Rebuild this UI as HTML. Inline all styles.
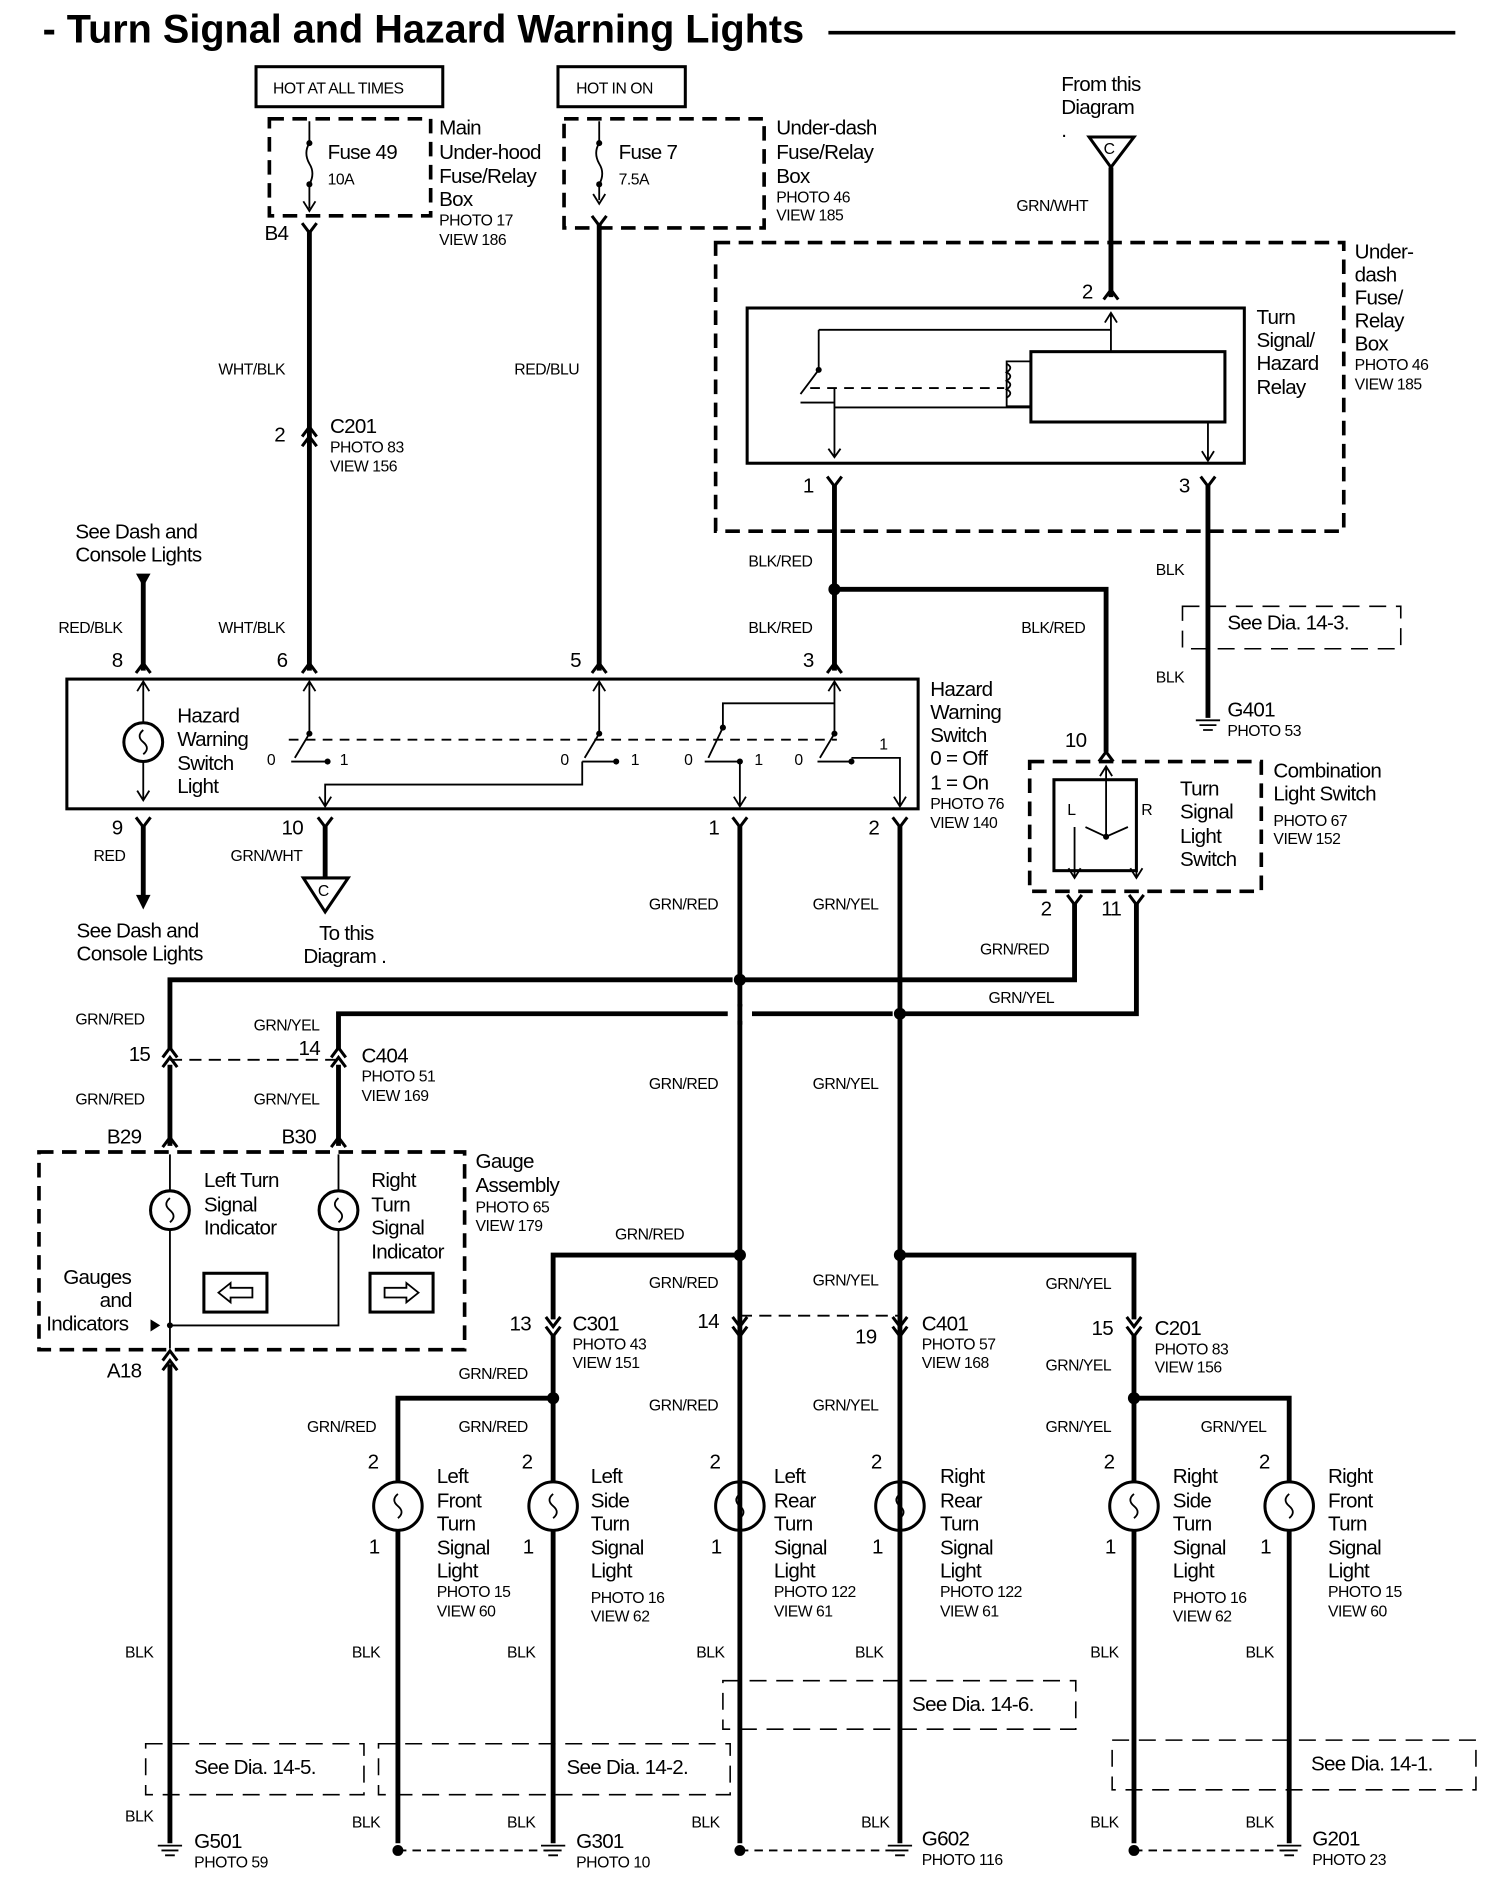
<!DOCTYPE html>
<html><head><meta charset="utf-8"><style>
html,body{margin:0;padding:0;background:#fff}
svg{display:block}
text{font-family:"Liberation Sans",Arial,sans-serif;fill:#000}
.t{font-size:17px;letter-spacing:-0.6px}
.s{font-size:13px;letter-spacing:-0.4px}
.w{font-size:13px;letter-spacing:-0.4px}
.k{stroke:#000;stroke-width:4;fill:none}
.n{stroke:#000;stroke-width:1.5;fill:none}
.d{stroke:#000;stroke-width:3;fill:none;stroke-dasharray:12 7}
.dt{stroke:#000;stroke-width:1.3;fill:none;stroke-dasharray:14 8}
.b{stroke:#000;stroke-width:2.5;fill:none}
</style></head><body>
<svg width="1504" height="1882" viewBox="0 0 1240 1552" xmlns="http://www.w3.org/2000/svg">
<!-- title -->
<text x="35" y="35" textLength="628" lengthAdjust="spacingAndGlyphs" style="font-size:33px;font-weight:bold">- Turn Signal and Hazard Warning Lights</text>
<line x1="683" y1="27" x2="1200" y2="27" stroke="#000" stroke-width="3"/>

<!-- top hot boxes -->
<rect x="211" y="55" width="154" height="33" class="b"/><text x="225" y="77" class="s">HOT AT ALL TIMES</text>
<rect x="460" y="55" width="105" height="33" class="b"/><text x="475" y="77" class="s">HOT IN ON</text>

<!-- fuse 49 -->
<rect x="222" y="98" width="133" height="80" class="d"/>
<path class="n" d="M255 100 V118 M255 152 V172 M250 166 L255 174 L260 166"/>
<path class="n" d="M255 118 q-5 8 0 17 q5 8 0 17"/>
<circle cx="255" cy="118" r="2.5"/><circle cx="255" cy="152" r="2.5"/>
<text x="270" y="131" class="t">Fuse 49</text><text x="270" y="152" class="s">10A</text>
<text x="362" y="111" class="t">Main</text><text x="362" y="131" class="t">Under-hood</text><text x="362" y="151" class="t">Fuse/Relay</text><text x="362" y="170" class="t">Box</text>
<text x="362" y="186" class="s">PHOTO 17</text><text x="362" y="202" class="s">VIEW 186</text>
<text x="218" y="198" class="t">B4</text>
<path class="b" d="M249 184 L255 192 L261 184"/>
<line x1="255" y1="190" x2="255" y2="553" class="k"/>

<!-- fuse 7 -->
<rect x="465" y="98" width="165" height="90" class="d"/>
<path class="n" d="M494 100 V118 M494 152 V165"/>
<path class="n" d="M494 118 q-5 8 0 17 q5 8 0 17"/>
<circle cx="494" cy="118" r="2.5"/><circle cx="494" cy="152" r="2.5"/>
<path class="n" d="M489 160 L494 168 L499 160"/>
<text x="510" y="131" class="t">Fuse 7</text><text x="510" y="152" class="s">7.5A</text>
<text x="640" y="111" class="t">Under-dash</text><text x="640" y="131" class="t">Fuse/Relay</text><text x="640" y="151" class="t">Box</text>
<text x="640" y="167" class="s">PHOTO 46</text><text x="640" y="182" class="s">VIEW 185</text>
<path class="b" d="M488 178 L494 186 L500 178"/>
<line x1="494" y1="184" x2="494" y2="553" class="k"/>

<text x="180" y="309" class="w">WHT/BLK</text>
<text x="424" y="309" class="w">RED/BLU</text>
<text x="226" y="364" class="t">2</text>
<path class="b" d="M249 360 L255 352 L261 360 M249 368 L255 360 L261 368"/>
<text x="272" y="357" class="t">C201</text><text x="272" y="373" class="s">PHOTO 83</text><text x="272" y="389" class="s">VIEW 156</text>

<!-- from this diagram -->
<text x="875" y="75" class="t">From this</text><text x="875" y="94" class="t">Diagram</text>
<text x="875" y="113" class="t">.</text>
<path class="b" d="M898 113 L935 113 L916 138 Z"/><text x="910" y="127" class="s">C</text>
<line x1="916" y1="138" x2="916" y2="245" class="k"/>
<text x="838" y="174" class="w">GRN/WHT</text>

<!-- relay box -->
<rect x="590" y="200" width="518" height="238" class="d"/>
<text x="1117" y="213" class="t">Under-</text><text x="1117" y="232" class="t">dash</text><text x="1117" y="251" class="t">Fuse/</text><text x="1117" y="270" class="t">Relay</text><text x="1117" y="289" class="t">Box</text>
<text x="1117" y="305" class="s">PHOTO 46</text><text x="1117" y="321" class="s">VIEW 185</text>
<rect x="616" y="254" width="410" height="128" class="b"/>
<text x="1036" y="267" class="t">Turn</text><text x="1036" y="286" class="t">Signal/</text><text x="1036" y="305" class="t">Hazard</text><text x="1036" y="325" class="t">Relay</text>
<text x="892" y="246" class="t">2</text>
<path class="b" d="M910 247 L916 239 L922 247"/>
<path class="n" d="M911 266 L916 258 L921 266 M916 258 V290 M675 272 H916 M675 272 V305 M675 305 L660 325"/>
<circle cx="675" cy="305" r="2.5"/>
<rect x="850" y="290" width="160" height="58" class="b"/>
<path class="n" d="M850 298 H830 V335 H850"/>
<path class="n" d="M830 300 q6 3 0 7 q6 3 0 7 q6 3 0 7 q6 3 0 7"/>
<line x1="668" y1="320" x2="828" y2="320" class="n" stroke-dasharray="8 6"/>
<path class="n" d="M660 332 H688 M688 320 V377 M683 370 L688 377 L693 370 M688 336 H850"/>
<path class="n" d="M996 348 V380 M991 372 L996 380 L1001 372"/>
<text x="662" y="406" class="t">1</text><text x="972" y="406" class="t">3</text>
<path class="b" d="M682 393 L688 401 L694 393 M990 393 L996 401 L1002 393"/>
<line x1="688" y1="400" x2="688" y2="553" class="k"/>
<line x1="996" y1="400" x2="996" y2="592" class="k"/>
<text x="617" y="467" class="w">BLK/RED</text>
<circle cx="688" cy="486" r="5"/>
<path class="k" d="M688 486 H912 V620"/>
<text x="617" y="522" class="w">BLK/RED</text><text x="842" y="522" class="w">BLK/RED</text>
<text x="953" y="474" class="w">BLK</text><text x="953" y="563" class="w">BLK</text>
<path class="dt" d="M975 500 H1155 V535 H975 Z"/>
<text x="1012" y="519" class="t">See Dia. 14-3.</text>
<path class="n" d="M986 594 H1006 M989 598 H1003 M992 602 H1000"/>
<text x="1012" y="591" class="t">G401</text><text x="1012" y="607" class="s">PHOTO 53</text>

<!-- left top -->
<text x="62" y="444" class="t">See Dash and</text><text x="62" y="463" class="t">Console Lights</text>
<path d="M112 473 L124 473 L118 484 Z"/><line x1="118" y1="480" x2="118" y2="553" class="k"/>
<text x="48" y="522" class="w">RED/BLK</text><text x="180" y="522" class="w">WHT/BLK</text>
<text x="92" y="550" class="t">8</text><text x="228" y="550" class="t">6</text><text x="470" y="550" class="t">5</text><text x="662" y="550" class="t">3</text>
<path class="b" d="M112 555 L118 547 L124 555 M249 555 L255 547 L261 555 M488 555 L494 547 L500 555 M682 555 L688 547 L694 555"/>

<!-- hazard switch -->
<rect x="55" y="560" width="702" height="107" class="b"/>
<path class="n" d="M113 570 L118 562 L123 570 M118 562 V596 M118 628 V660 M113 652 L118 660 L123 652"/>
<circle cx="118" cy="612" r="16" class="b"/>
<path class="n" d="M118 602 q-6 5 0 10 q6 5 0 10"/>
<text x="146" y="596" class="t">Hazard</text><text x="146" y="615" class="t">Warning</text><text x="146" y="635" class="t">Switch</text><text x="146" y="654" class="t">Light</text>
<path class="n" d="M250 570 L255 562 L260 570 M255 562 V605 L243 625 M489 570 L494 562 L499 570 M494 562 V605 L482 625 M683 570 L688 562 L693 570 M688 562 V605 L676 625 M688 580 H596 V600 L584 625"/>
<circle cx="255" cy="605" r="2.5"/><circle cx="494" cy="605" r="2.5"/><circle cx="688" cy="605" r="2.5"/><circle cx="596" cy="600" r="2.5"/>
<line x1="238" y1="610" x2="690" y2="610" class="n" stroke-dasharray="8 6"/>
<text x="220" y="631" class="s">0</text><text x="280" y="631" class="s">1</text><text x="462" y="631" class="s">0</text><text x="520" y="631" class="s">1</text><text x="564" y="631" class="s">0</text><text x="622" y="631" class="s">1</text><text x="655" y="631" class="s">0</text><text x="725" y="618" class="s">1</text>
<path class="n" d="M240 628 H270 M480 628 H508 M581 628 H610 M674 628 H702"/>
<circle cx="270" cy="628" r="2.5"/><circle cx="508" cy="628" r="2.5"/><circle cx="610" cy="628" r="2.5"/><circle cx="702" cy="628" r="2.5"/>
<path class="n" d="M480 628 V647 H268 V665 M263 657 L268 665 L273 657 M610 628 V665 M605 657 L610 665 L615 657 M702 625 H742 V665 M737 657 L742 665 L747 657"/>
<text x="767" y="574" class="t">Hazard</text><text x="767" y="593" class="t">Warning</text><text x="767" y="612" class="t">Switch</text><text x="767" y="631" class="t">0 = Off</text><text x="767" y="651" class="t">1 = On</text>
<text x="767" y="667" class="s">PHOTO 76</text><text x="767" y="683" class="s">VIEW 140</text>

<text x="92" y="688" class="t">9</text><text x="232" y="688" class="t">10</text><text x="584" y="688" class="t">1</text><text x="716" y="688" class="t">2</text>
<path class="b" d="M112 674 L118 682 L124 674 M262 674 L268 682 L274 674 M604 674 L610 682 L616 674 M736 674 L742 682 L748 674"/>
<line x1="118" y1="680" x2="118" y2="740" class="k"/><path d="M112 738 L124 738 L118 750 Z"/>
<text x="77" y="710" class="w">RED</text><text x="190" y="710" class="w">GRN/WHT</text>
<line x1="268" y1="680" x2="268" y2="724" class="k"/>
<path class="b" d="M250 724 L287 724 L268 752 Z"/><text x="262" y="739" class="s">C</text>
<text x="63" y="773" class="t">See Dash and</text><text x="63" y="792" class="t">Console Lights</text>
<text x="263" y="775" class="t">To this</text><text x="250" y="794" class="t">Diagram .</text>
<line x1="610" y1="680" x2="610" y2="1520" class="k"/>
<line x1="742" y1="680" x2="742" y2="1520" class="k"/>
<text x="535" y="750" class="w">GRN/RED</text><text x="670" y="750" class="w">GRN/YEL</text>

<!-- combination switch -->
<rect x="849" y="628" width="191" height="107" class="d"/>
<rect x="869" y="643" width="68" height="75" class="b"/>
<text x="880" y="672" class="s">L</text><text x="941" y="672" class="s">R</text>
<text x="973" y="656" class="t">Turn</text><text x="973" y="675" class="t">Signal</text><text x="973" y="695" class="t">Light</text><text x="973" y="714" class="t">Switch</text>
<text x="1050" y="641" class="t">Combination</text><text x="1050" y="660" class="t">Light Switch</text>
<text x="1050" y="681" class="s">PHOTO 67</text><text x="1050" y="696" class="s">VIEW 152</text>
<text x="878" y="616" class="t">10</text>
<path class="b" d="M906 628 L912 620 L918 628"/>
<path class="n" d="M907 640 L912 632 L917 640 M912 632 V690 M912 690 L895 682 M912 690 L930 682 M886 682 V724 M881 716 L886 724 L891 716 M937 682 V724 M932 716 L937 724 L942 716"/>
<circle cx="912" cy="690" r="2.5"/>
<text x="858" y="755" class="t">2</text><text x="908" y="755" class="t">11</text>
<path class="b" d="M880 738 L886 746 L892 738 M931 738 L937 746 L943 738"/>
<path class="k" d="M886 744 V808 H610"/>
<path class="k" d="M937 744 V836 H742"/>
<text x="808" y="787" class="w">GRN/RED</text><text x="815" y="827" class="w">GRN/YEL</text>
<circle cx="610" cy="808" r="5"/><circle cx="742" cy="836" r="5"/>
<path class="k" d="M604 808 H140 V866"/>
<path class="k" d="M736 836 H279 V866"/>
<rect x="600" y="830" width="20" height="12" fill="#fff"/><line x1="610" y1="828" x2="610" y2="845" class="k"/>
<text x="62" y="845" class="w">GRN/RED</text><text x="209" y="850" class="w">GRN/YEL</text>
<text x="106" y="875" class="t">15</text><text x="246" y="870" class="t">14</text>
<path class="b" d="M134 872 L140 864 L146 872 M134 880 L140 872 L146 880 M273 872 L279 864 L285 872 M273 880 L279 872 L285 880"/>
<line x1="140" y1="874" x2="279" y2="874" class="n" stroke-dasharray="10 6"/>
<line x1="140" y1="878" x2="140" y2="945" class="k"/><line x1="279" y1="878" x2="279" y2="945" class="k"/>
<text x="298" y="876" class="t">C404</text><text x="298" y="892" class="s">PHOTO 51</text><text x="298" y="908" class="s">VIEW 169</text>
<text x="62" y="911" class="w">GRN/RED</text><text x="209" y="911" class="w">GRN/YEL</text>
<text x="535" y="898" class="w">GRN/RED</text><text x="670" y="898" class="w">GRN/YEL</text>
<text x="88" y="943" class="t">B29</text><text x="232" y="943" class="t">B30</text>
<path class="b" d="M134 946 L140 938 L146 946 M273 946 L279 938 L285 946"/>

<!-- gauge -->
<rect x="32" y="950" width="351" height="163" class="d"/>
<circle cx="140" cy="998" r="16" class="b"/><path class="n" d="M140 988 q-6 5 0 10 q6 5 0 10"/>
<circle cx="279" cy="998" r="16" class="b"/><path class="n" d="M279 988 q-6 5 0 10 q6 5 0 10"/>
<path class="n" d="M140 952 V982 M279 952 V982 M140 1014 V1112 M279 1014 V1093 H140"/>
<text x="168" y="979" class="t">Left Turn</text><text x="168" y="999" class="t">Signal</text><text x="168" y="1018" class="t">Indicator</text>
<text x="306" y="979" class="t">Right</text><text x="306" y="999" class="t">Turn</text><text x="306" y="1018" class="t">Signal</text><text x="306" y="1038" class="t">Indicator</text>
<text x="392" y="963" class="t">Gauge</text><text x="392" y="983" class="t">Assembly</text><text x="392" y="1000" class="s">PHOTO 65</text><text x="392" y="1015" class="s">VIEW 179</text>
<rect x="168" y="1050" width="52" height="32" class="b"/><path class="n" d="M180 1066 L190 1058 V1062 H208 V1070 H190 V1074 Z"/>
<rect x="305" y="1050" width="52" height="32" class="b"/><path class="n" d="M345 1066 L335 1058 V1062 H317 V1070 H335 V1074 Z"/>
<text x="52" y="1059" class="t">Gauges</text><text x="82" y="1078" class="t">and</text><text x="38" y="1097" class="t">Indicators</text>
<path d="M124 1088 L132 1093 L124 1098 Z"/><circle cx="140" cy="1093" r="2.5"/>
<text x="88" y="1136" class="t">A18</text>
<path class="b" d="M134 1122 L140 1114 L146 1122 M134 1130 L140 1122 L146 1130"/>
<line x1="140" y1="1125" x2="140" y2="1520" class="k"/>

<!-- mid connectors -->
<text x="507" y="1022" class="w">GRN/RED</text>
<circle cx="610" cy="1035" r="5"/><circle cx="742" cy="1035" r="5"/>
<path class="k" d="M610 1035 H456 V1088"/>
<path class="k" d="M742 1035 H935 V1088"/>
<text x="535" y="1062" class="w">GRN/RED</text><text x="670" y="1060" class="w">GRN/YEL</text><text x="862" y="1063" class="w">GRN/YEL</text>
<line x1="610" y1="1085" x2="742" y2="1085" class="n" stroke-dasharray="10 6"/>
<text x="420" y="1097" class="t">13</text><text x="575" y="1095" class="t">14</text><text x="705" y="1108" class="t">19</text><text x="900" y="1101" class="t">15</text>
<path class="b" d="M450 1086 L456 1094 L462 1086 M450 1094 L456 1102 L462 1094 M604 1086 L610 1094 L616 1086 M604 1094 L610 1102 L616 1094 M736 1086 L742 1094 L748 1086 M736 1094 L742 1102 L748 1094 M929 1086 L935 1094 L941 1086 M929 1094 L935 1102 L941 1094"/>
<text x="472" y="1097" class="t">C301</text><text x="472" y="1113" class="s">PHOTO 43</text><text x="472" y="1128" class="s">VIEW 151</text>
<text x="760" y="1097" class="t">C401</text><text x="760" y="1113" class="s">PHOTO 57</text><text x="760" y="1128" class="s">VIEW 168</text>
<text x="952" y="1101" class="t">C201</text><text x="952" y="1117" class="s">PHOTO 83</text><text x="952" y="1132" class="s">VIEW 156</text>
<text x="378" y="1137" class="w">GRN/RED</text><text x="862" y="1130" class="w">GRN/YEL</text>
<text x="535" y="1163" class="w">GRN/RED</text><text x="670" y="1163" class="w">GRN/YEL</text>
<line x1="456" y1="1100" x2="456" y2="1222" class="k"/><line x1="935" y1="1100" x2="935" y2="1222" class="k"/>
<circle cx="456" cy="1153" r="5"/><circle cx="935" cy="1153" r="5"/>
<path class="k" d="M456 1153 H328 V1222"/><path class="k" d="M935 1153 H1063 V1222"/>
<text x="253" y="1181" class="w">GRN/RED</text><text x="378" y="1181" class="w">GRN/RED</text><text x="862" y="1181" class="w">GRN/YEL</text><text x="990" y="1181" class="w">GRN/YEL</text>

<!-- lamps -->
<g>
<circle cx="328" cy="1242" r="20" class="b"/><path class="n" d="M328 1232 q-6 5 0 10 q6 5 0 10"/>
<circle cx="456" cy="1242" r="20" class="b"/><path class="n" d="M456 1232 q-6 5 0 10 q6 5 0 10"/>
<circle cx="610" cy="1242" r="20" class="b"/><path class="n" d="M610 1232 q-6 5 0 10 q6 5 0 10"/>
<circle cx="742" cy="1242" r="20" class="b"/><path class="n" d="M742 1232 q-6 5 0 10 q6 5 0 10"/>
<circle cx="935" cy="1242" r="20" class="b"/><path class="n" d="M935 1232 q-6 5 0 10 q6 5 0 10"/>
<circle cx="1063" cy="1242" r="20" class="b"/><path class="n" d="M1063 1232 q-6 5 0 10 q6 5 0 10"/>
</g>
<text x="303" y="1211" class="t">2</text><text x="430" y="1211" class="t">2</text><text x="585" y="1211" class="t">2</text><text x="718" y="1211" class="t">2</text><text x="910" y="1211" class="t">2</text><text x="1038" y="1211" class="t">2</text>
<text x="304" y="1281" class="t">1</text><text x="431" y="1281" class="t">1</text><text x="586" y="1281" class="t">1</text><text x="719" y="1281" class="t">1</text><text x="911" y="1281" class="t">1</text><text x="1039" y="1281" class="t">1</text>
<path class="k" d="M328 1262 V1520 M456 1262 V1520 M935 1262 V1520 M1063 1262 V1520"/>

<text x="360" y="1223" class="t">Left</text><text x="360" y="1243" class="t">Front</text><text x="360" y="1262" class="t">Turn</text><text x="360" y="1282" class="t">Signal</text><text x="360" y="1301" class="t">Light</text><text x="360" y="1317" class="s">PHOTO 15</text><text x="360" y="1333" class="s">VIEW 60</text>
<text x="487" y="1223" class="t">Left</text><text x="487" y="1243" class="t">Side</text><text x="487" y="1262" class="t">Turn</text><text x="487" y="1282" class="t">Signal</text><text x="487" y="1301" class="t">Light</text><text x="487" y="1322" class="s">PHOTO 16</text><text x="487" y="1337" class="s">VIEW 62</text>
<text x="638" y="1223" class="t">Left</text><text x="638" y="1243" class="t">Rear</text><text x="638" y="1262" class="t">Turn</text><text x="638" y="1282" class="t">Signal</text><text x="638" y="1301" class="t">Light</text><text x="638" y="1317" class="s">PHOTO 122</text><text x="638" y="1333" class="s">VIEW 61</text>
<text x="775" y="1223" class="t">Right</text><text x="775" y="1243" class="t">Rear</text><text x="775" y="1262" class="t">Turn</text><text x="775" y="1282" class="t">Signal</text><text x="775" y="1301" class="t">Light</text><text x="775" y="1317" class="s">PHOTO 122</text><text x="775" y="1333" class="s">VIEW 61</text>
<text x="967" y="1223" class="t">Right</text><text x="967" y="1243" class="t">Side</text><text x="967" y="1262" class="t">Turn</text><text x="967" y="1282" class="t">Signal</text><text x="967" y="1301" class="t">Light</text><text x="967" y="1322" class="s">PHOTO 16</text><text x="967" y="1337" class="s">VIEW 62</text>
<text x="1095" y="1223" class="t">Right</text><text x="1095" y="1243" class="t">Front</text><text x="1095" y="1262" class="t">Turn</text><text x="1095" y="1282" class="t">Signal</text><text x="1095" y="1301" class="t">Light</text><text x="1095" y="1317" class="s">PHOTO 15</text><text x="1095" y="1333" class="s">VIEW 60</text>

<text x="103" y="1367" class="w">BLK</text><text x="290" y="1367" class="w">BLK</text><text x="418" y="1367" class="w">BLK</text><text x="574" y="1367" class="w">BLK</text><text x="705" y="1367" class="w">BLK</text><text x="899" y="1367" class="w">BLK</text><text x="1027" y="1367" class="w">BLK</text>

<path class="dt" d="M596 1386 H887 V1426 H596 Z"/><text x="752" y="1411" class="t">See Dia. 14-6.</text>
<path class="dt" d="M120 1438 H300 V1480 H120 Z"/><text x="160" y="1463" class="t">See Dia. 14-5.</text>
<path class="dt" d="M312 1438 H602 V1480 H312 Z"/><text x="467" y="1463" class="t">See Dia. 14-2.</text>
<path class="dt" d="M917 1435 H1217 V1476 H917 Z"/><text x="1081" y="1460" class="t">See Dia. 14-1.</text>

<text x="103" y="1502" class="w">BLK</text><text x="290" y="1507" class="w">BLK</text><text x="418" y="1507" class="w">BLK</text><text x="570" y="1507" class="w">BLK</text><text x="710" y="1507" class="w">BLK</text><text x="899" y="1507" class="w">BLK</text><text x="1027" y="1507" class="w">BLK</text>

<!-- grounds -->
<path class="n" d="M130 1522 H150 M133 1526 H147 M136 1530 H144 M446 1522 H466 M449 1526 H463 M452 1530 H460 M732 1522 H752 M735 1526 H749 M738 1530 H746 M1053 1522 H1073 M1056 1526 H1070 M1059 1530 H1067"/>
<circle cx="328" cy="1526" r="4.5"/><circle cx="610" cy="1526" r="4.5"/><circle cx="935" cy="1526" r="4.5"/>
<path class="n" stroke-dasharray="7 5" d="M328 1526 H452 M610 1526 H738 M935 1526 H1059"/>
<text x="160" y="1524" class="t">G501</text><text x="160" y="1540" class="s">PHOTO 59</text>
<text x="475" y="1524" class="t">G301</text><text x="475" y="1540" class="s">PHOTO 10</text>
<text x="760" y="1522" class="t">G602</text><text x="760" y="1538" class="s">PHOTO 116</text>
<text x="1082" y="1522" class="t">G201</text><text x="1082" y="1538" class="s">PHOTO 23</text>
</svg>
</body></html>
